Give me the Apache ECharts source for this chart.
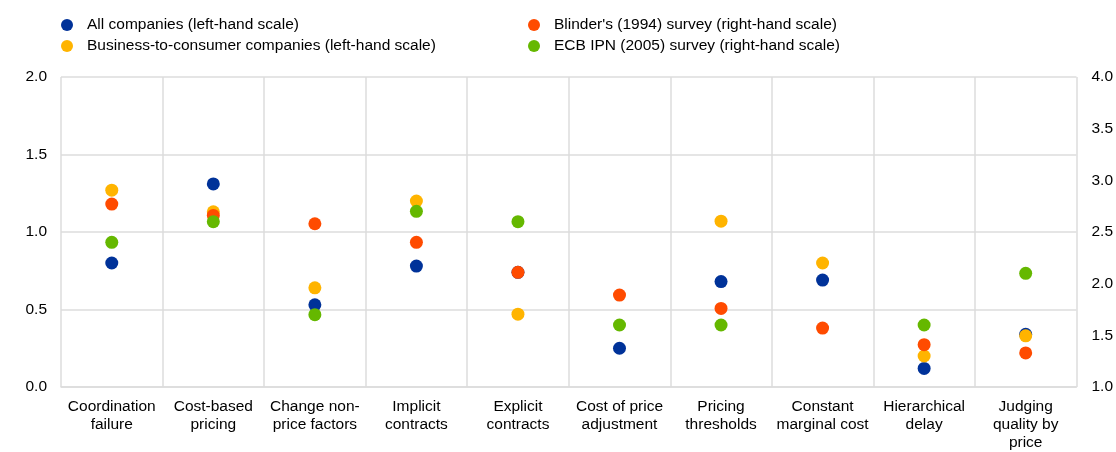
<!DOCTYPE html>
<html>
<head>
<meta charset="utf-8">
<script src="https://cdn.jsdelivr.net/npm/echarts@6/dist/echarts.min.js"></script>
<style>
  html, body { margin: 0; padding: 0; background: #fff; }
  #chart { width: 1116px; height: 452px; }
</style>
</head>
<body>
<div id="chart"></div>
<script>
var categories = [
    'Coordination\nfailure', 'Cost-based\npricing', 'Change non-\nprice factors',
    'Implicit\ncontracts', 'Explicit\ncontracts', 'Cost of price\nadjustment',
    'Pricing\nthresholds', 'Constant\nmarginal cost', 'Hierarchical\ndelay',
    'Judging\nquality by\nprice'
];
// left-hand scale
var allCompanies = [0.80, 1.31, 0.53, 0.78, 0.74, 0.25, 0.68, 0.69, 0.12, 0.34];
var b2cCompanies = [1.27, 1.13, 0.64, 1.20, 0.47, null, 1.07, 0.80, 0.20, 0.33];
// right-hand scale
var blinder1994 = [2.77, 2.66, 2.58, 2.40, 2.11, 1.89, 1.76, 1.57, 1.41, 1.33];
var ecbIpn2005 = [2.40, 2.60, 1.70, 2.70, 2.60, 1.60, 1.60, null, 1.60, 2.10];

var names = [
    'All companies (left-hand scale)',
    'Business-to-consumer companies (left-hand scale)',
    "Blinder's (1994) survey (right-hand scale)",
    'ECB IPN (2005) survey (right-hand scale)'
];
var colors = ['#003299', '#FFB400', '#FF4B00', '#65B800'];

var font = 'Liberation Sans, Arial, sans-serif';
var gridColor = '#dcdcdc';

function dots(name, values, axis, color) {
    return {
        name: name,
        type: 'scatter',
        yAxisIndex: axis,
        data: values,
        symbol: 'circle',
        symbolSize: 13,
        itemStyle: { color: color, opacity: 1 },
        emphasis: { disabled: true }
    };
}

var legendBase = {
    orient: 'vertical',
    top: 12,
    icon: 'circle',
    itemWidth: 12,
    itemHeight: 12,
    itemGap: 5,
    textStyle: { fontFamily: font, fontSize: 15.5, color: '#000', padding: [0, 0, 0, 9] }
};

var myChart = echarts.init(document.getElementById('chart'));
myChart.setOption({
    animation: false,
    color: colors,
    legend: [
        Object.assign({ left: 56, data: [names[0], names[1]] }, legendBase),
        Object.assign({ left: 523, data: [names[2], names[3]] }, legendBase)
    ],
    grid: { left: 61, right: 38, top: 77, bottom: 61.5 },
    xAxis: {
        type: 'category',
        data: categories,
        boundaryGap: true,
        axisTick: { show: false },
        axisLine: { lineStyle: { color: gridColor, width: 1.5 } },
        splitLine: { show: true, lineStyle: { color: gridColor, width: 1.5 } },
        axisLabel: {
            interval: 0, margin: 11, fontFamily: font, fontSize: 15.5,
            lineHeight: 18, color: '#000'
        }
    },
    yAxis: [
        {
            type: 'value', min: 0, max: 2, interval: 0.5,
            axisLine: { show: false }, axisTick: { show: false },
            splitLine: { lineStyle: { color: gridColor, width: 1.5 } },
            axisLabel: {
                margin: 14, fontFamily: font, fontSize: 15.5, color: '#000',
                formatter: function (v) { return v.toFixed(1); }
            }
        },
        {
            type: 'value', min: 1, max: 4, interval: 0.5,
            axisLine: { show: false }, axisTick: { show: false },
            splitLine: { show: false },
            axisLabel: {
                margin: 15, fontFamily: font, fontSize: 15.5, color: '#000',
                formatter: function (v) { return v.toFixed(1); }
            }
        }
    ],
    series: [
        dots(names[0], allCompanies, 0, colors[0]),
        dots(names[1], b2cCompanies, 0, colors[1]),
        dots(names[2], blinder1994, 1, colors[2]),
        dots(names[3], ecbIpn2005, 1, colors[3])
    ]
});
</script>
</body>
</html>
